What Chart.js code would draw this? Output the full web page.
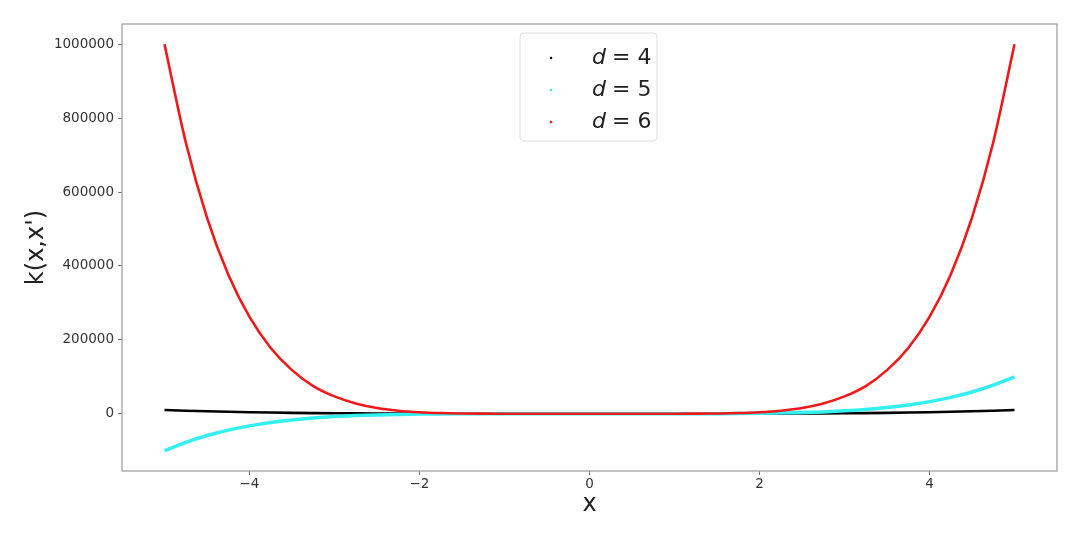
<!DOCTYPE html>
<html>
<head>
<meta charset="utf-8">
<script src="https://cdn.jsdelivr.net/npm/chart.js@4.4.0/dist/chart.umd.min.js"></script>
<style>
  html, body { margin: 0; padding: 0; background: #fff; }
  #wrap { width: 1080px; height: 540px; }
</style>
</head>
<body>
<div id="wrap"><canvas id="kernel" width="1080" height="540"></canvas></div>
<script>
// sample positions along x
const xs = [-5, -4.75, -4.5, -4.25, -4, -3.75, -3.5, -3.25, -3, -2.75, -2.5, -2.25, -2, -1.75, -1.5, -1.25, -1, -0.5, 0,
            0.5, 1, 1.25, 1.5, 1.75, 2, 2.25, 2.5, 2.75, 3, 3.25, 3.5, 3.75, 4, 4.25, 4.5, 4.75, 5];
const d4 = [10000, 8150, 6560, 5220, 4100, 3160, 2400, 1790, 1300, 920, 630, 410, 260, 150, 80, 40, 16, 1, 0,
            1, 16, 40, 80, 150, 260, 410, 630, 920, 1300, 1790, 2400, 3160, 4100, 5220, 6560, 8150, 10000];
const d5 = [-100000, -77400, -59000, -44400, -32800, -23700, -16800, -11600, -7800, -5000, -3100, -1850, -1000, -520, -240, -100, -30, -1, 0,
            1, 30, 100, 240, 520, 1000, 1850, 3100, 5000, 7800, 11600, 16800, 23700, 32800, 44400, 59000, 77400, 100000];
const d6 = [1000000, 735000, 531000, 377000, 262000, 178000, 118000, 75000, 47000, 28000, 15600, 8300, 4100, 1800, 730, 240, 60, 1, 0,
            1, 60, 240, 730, 1800, 4100, 8300, 15600, 28000, 47000, 75000, 118000, 178000, 262000, 377000, 531000, 735000, 1000000];
const seriesLabels = ['4', '5', '6'];
const seriesColors = ['#000000', '#33f0f0', '#f01818'];
const xTicks = [-4, -2, 0, 2, 4];
const yTicks = [0, 200000, 400000, 600000, 800000, 1000000];

const toPts = ys => xs.map((x, i) => ({ x: x, y: ys[i] }));

const frame = {
  id: 'frame',
  afterDatasetsDraw(chart) {
    const a = chart.chartArea, ctx = chart.ctx;
    ctx.save();
    ctx.strokeStyle = '#9a9a9a';
    ctx.lineWidth = 1.2;
    ctx.strokeRect(a.left, a.top, a.right - a.left, a.bottom - a.top);

    // legend box, matplotlib style
    const w = 137, h = 108;
    const lx = (a.left + a.right) / 2 - w / 2 - 1, ly = a.top + 9;
    ctx.beginPath();
    ctx.roundRect(lx, ly, w, h, 4);
    ctx.fillStyle = 'rgba(255,255,255,0.85)';
    ctx.fill();
    ctx.strokeStyle = '#dddddd';
    ctx.lineWidth = 1;
    ctx.stroke();
    seriesLabels.forEach((lab, i) => {
      const cy = ly + 25 + i * 32;
      ctx.fillStyle = seriesColors[i];
      ctx.beginPath();
      ctx.arc(lx + 31, cy, 1.3, 0, Math.PI * 2);
      ctx.fill();
      ctx.fillStyle = '#222';
      ctx.textBaseline = 'middle';
      ctx.font = 'italic 22px "DejaVu Sans"';
      ctx.fillText('d', lx + 72, cy);
      ctx.font = '22px "DejaVu Sans"';
      ctx.fillText('= ' + lab, lx + 92, cy);
    });
    ctx.restore();
  }
};

const makeSet = (ys, i, ord) => ({
  label: 'd = ' + seriesLabels[i],
  data: toPts(ys),
  showLine: true,
  borderColor: seriesColors[i],
  backgroundColor: seriesColors[i],
  borderWidth: i === 1 ? 3.5 : 2.6,
  pointRadius: 0,
  cubicInterpolationMode: 'monotone',
  order: ord
});

new Chart(document.getElementById('kernel'), {
  type: 'scatter',
  data: {
    datasets: [makeSet(d4, 0, 3), makeSet(d5, 1, 2), makeSet(d6, 2, 1)]
  },
  options: {
    responsive: false,
    animation: false,
    layout: { padding: { top: 24, right: 23, left: 0, bottom: 0 } },
    plugins: { legend: { display: false }, tooltip: { enabled: false } },
    scales: {
      x: {
        type: 'linear',
        min: -5.5, max: 5.5,
        afterBuildTicks: s => { s.ticks = xTicks.map(v => ({ value: v })); },
        afterFit: s => { s.height = 69; },
        grid: { display: true, drawOnChartArea: false, color: '#777', tickLength: 4 },
        border: { display: false },
        ticks: {
          color: '#333', font: { family: 'DejaVu Sans', size: 13.5 }, padding: 1,
          callback: v => String(v).replace('-', '\u2212')
        },
        title: { display: true, text: 'x', color: '#222', font: { family: 'DejaVu Sans', size: 24 }, padding: { top: 0, bottom: 21 } }
      },
      y: {
        min: -155000, max: 1055000,
        afterBuildTicks: s => { s.ticks = yTicks.map(v => ({ value: v })); },
        afterFit: s => { s.width = 122; },
        grid: { display: true, drawOnChartArea: false, color: '#777', tickLength: 4 },
        border: { display: false },
        ticks: { color: '#333', font: { family: 'DejaVu Sans', size: 13.5 }, padding: 4, callback: v => String(v) },
        title: { display: true, text: "k(x,x')", color: '#222', font: { family: 'DejaVu Sans', size: 24 }, padding: { top: 22, bottom: 0 } }
      }
    }
  },
  plugins: [frame]
});
</script>
</body>
</html>
